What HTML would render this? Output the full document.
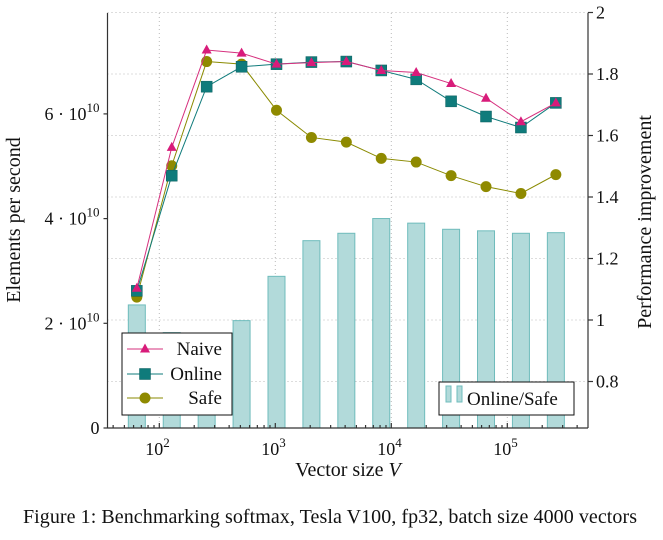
<!DOCTYPE html>
<html><head><meta charset="utf-8"><style>
body{margin:0;background:#fff;}
svg{display:block;font-family:"Liberation Serif",serif;}
</style></head><body>
<svg id="c" width="663" height="540" viewBox="0 0 663 540"></svg>
<script>
const sizes=[64,128,256,512,1024,2048,4096,8192,16384,32768,65536,131072,262144];
const naive=[2.67,5.36,7.22,7.16,6.95,6.98,7.0,6.83,6.79,6.58,6.30,5.85,6.21];
const online=[2.62,4.82,6.52,6.90,6.95,6.99,7.00,6.83,6.66,6.24,5.95,5.74,6.21];
const safe=[2.50,5.01,7.0,6.95,6.07,5.55,5.46,5.15,5.08,4.82,4.61,4.48,4.84];
const ratio=[1.049,0.959,0.93,0.998,1.142,1.258,1.282,1.33,1.315,1.295,1.29,1.282,1.284];
const leftTicks=[0,2,4,6];
const rightTicks=[0.8,1.0,1.2,1.4,1.6,1.8,2.0];
const rightLabels=["0.8","1","1.2","1.4","1.6","1.8","2"];
const xDecades=[2,3,4,5];

const NS="http://www.w3.org/2000/svg",svg=document.getElementById('c');
const L=107.5,R=588,T=13,B=428;
const X=v=>159.3+(Math.log10(v)-2)*116;
const YL=v=>B-v*52.35;
const YR=v=>320-(v-1)*307.5;
function el(t,a,p){const e=document.createElementNS(NS,t);for(const k in a)e.setAttribute(k,a[k]);(p||svg).appendChild(e);return e;}

const grid=el('g',{});


xDecades.forEach(d=>{el('line',{x1:X(10**d),x2:X(10**d),y1:T,y2:B,stroke:'#bbb','stroke-width':1,'stroke-dasharray':'1,3'},grid);});
rightTicks.forEach(v=>{el('line',{x1:L,x2:R,y1:YR(v),y2:YR(v),stroke:'#bbb','stroke-width':1,'stroke-dasharray':'1,3'},grid);});

const bars=el('g',{});


sizes.forEach((s,i)=>{const y=YR(ratio[i]);const b=el('rect',{x:X(s)-8.5,y:y,width:17,height:B-y,fill:'#b2dada',stroke:'#6fbcbc','stroke-width':1},bars);

});

const ax=el('g',{stroke:'#333','stroke-width':1.2,fill:'none'});


el('line',{x1:L,x2:L,y1:T,y2:B},ax);el('line',{x1:R,x2:R,y1:T,y2:B},ax);el('line',{x1:L,x2:R,y1:B,y2:B},ax);
leftTicks.forEach(v=>{el('line',{x1:L-4,x2:L,y1:YL(v),y2:YL(v)},ax);});
rightTicks.forEach((v,i)=>{el('line',{x1:R,x2:R+5,y1:YR(v),y2:YR(v)},ax);
 const t=el('text',{x:R+8,y:YR(v)+6,'font-size':18,fill:'#111',stroke:'none'});
 
 
 t.textContent=rightLabels[i];});
xDecades.forEach(d=>{el('line',{x1:X(10**d),x2:X(10**d),y1:B,y2:B-5},ax);
 const t=el('text',{x:X(10**d)-14,y:B+27,'font-size':18,fill:'#111',stroke:'none'});
 
 
 t.textContent='10';const s=el('tspan',{'font-size':13,dy:-8},t);s.textContent=String(d);
 for(let m=2;m<10;m++){const xx=X(m*10**d);if(xx<R)el('line',{x1:xx,x2:xx,y1:B,y2:B-3},ax);
  const xm=X(m*10**(d-1));if(d===2&&xm>L)el('line',{x1:xm,x2:xm,y1:B,y2:B-3},ax);}
});
leftTicks.forEach(v=>{const t=el('text',{x:L-8,y:YL(v)+6,'text-anchor':'end','font-size':18,fill:'#111'});
 
 
 if(v===0){t.textContent='0';}else{t.textContent=v+' · 10';const s=el('tspan',{'font-size':13,dy:-8},t);s.textContent='10';}
});

function series(vals,color,name,marker){
 const g=el('g',{});
 
 
 el('polyline',{points:sizes.map((s,i)=>X(s)+','+YL(vals[i])).join(' '),fill:'none',stroke:color,'stroke-width':1},g);
 sizes.forEach((s,i)=>marker(g,X(s),YL(vals[i])));
}
const tri=(c)=>(g,x,y)=>el('polygon',{points:`${x},${y-5.5} ${x-5},${y+3.5} ${x+5},${y+3.5}`,fill:c},g);
const sq=(c)=>(g,x,y)=>el('rect',{x:x-5.5,y:y-5.5,width:11,height:11,fill:c,stroke:'#0b5f5f','stroke-width':0.5},g);
const ci=(c)=>(g,x,y)=>el('circle',{cx:x,cy:y,r:5.5,fill:c},g);
series(safe,'#8a8a00','safe',ci('#8f8a00'));
series(online,'#0f7b7b','online',sq('#0f7b7b'));
series(naive,'#d6307e','naive',tri('#d81b7a'));

const lg=el('g',{});


el('rect',{x:122,y:333,width:110,height:82,fill:'#fff',stroke:'#111','stroke-width':1},lg);
[['Naive','#d6307e',tri('#d81b7a'),349],['Online','#0f7b7b',sq('#0f7b7b'),374],['Safe','#8a8a00',ci('#8f8a00'),398]].forEach(([n,c,m,y])=>{
 const e=el('g',{},lg);
 
 
 el('line',{x1:127,x2:163,y1:y,y2:y,stroke:c,'stroke-width':1},e);m(e,145,y);
 const t=el('text',{x:222,y:y+6,'text-anchor':'end','font-size':19,fill:'#111'},e);t.textContent=n;});

const lg2=el('g',{});


el('rect',{x:439,y:382,width:135,height:33,fill:'#fff',stroke:'#111','stroke-width':1},lg2);
el('rect',{x:446,y:386,width:5,height:16,fill:'#b2dada',stroke:'#6fbcbc'},lg2);
el('rect',{x:457,y:386,width:5,height:16,fill:'#b2dada',stroke:'#6fbcbc'},lg2);
const t2=el('text',{x:467,y:405,'font-size':19,fill:'#111'},lg2);t2.textContent='Online/Safe';

let t=el('text',{x:0,y:0,'font-size':20,fill:'#111','text-anchor':'middle',transform:'translate(20,220) rotate(-90)'});
t.textContent='Elements per second';
t=el('text',{x:0,y:0,'font-size':20,fill:'#111','text-anchor':'middle',transform:'translate(651,222) rotate(-90)'});
t.textContent='Performance improvement';
t=el('text',{x:348,y:476,'font-size':20,fill:'#111','text-anchor':'middle'});
t.textContent='Vector size ';
el('tspan',{'font-style':'italic'},t).textContent='V';
t=el('text',{x:330,y:523,'font-size':20,fill:'#111','text-anchor':'middle',textLength:614});

t.textContent='Figure 1: Benchmarking softmax, Tesla V100, fp32, batch size 4000 vectors';
</script>
</body></html>
